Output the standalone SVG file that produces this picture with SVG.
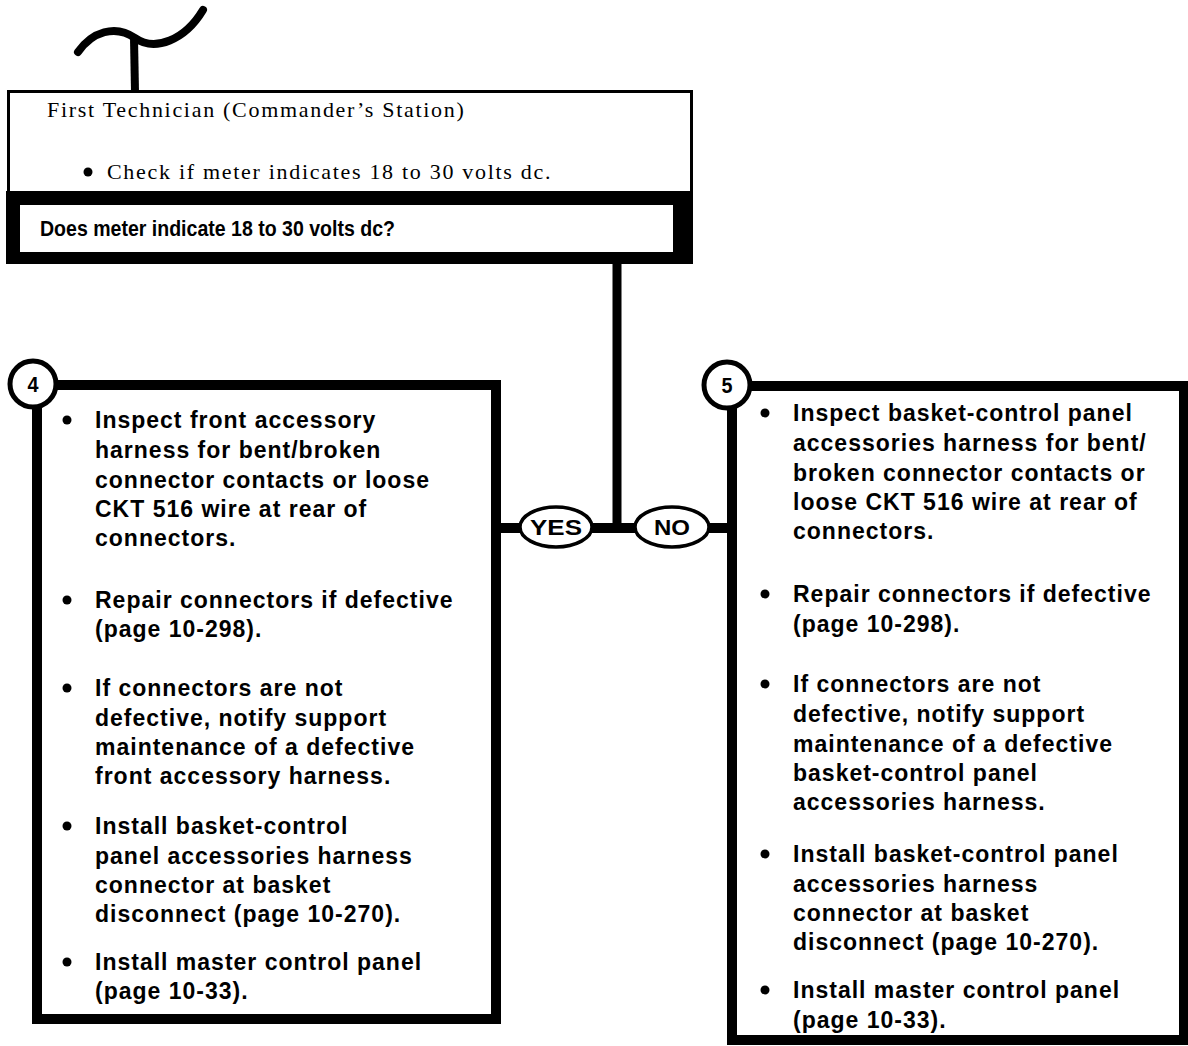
<svg xmlns="http://www.w3.org/2000/svg" width="1188" height="1046" viewBox="0 0 1188 1046">
<style>
.ser{font-family:"Liberation Serif","Times New Roman",serif;font-size:22px;fill:#000;letter-spacing:1.7px}
.b{font-family:"Liberation Sans",Arial,sans-serif;font-weight:bold;font-size:23px;fill:#000;letter-spacing:1px}
.q{font-family:"Liberation Sans",Arial,sans-serif;font-weight:bold;font-size:22px;fill:#000}
.lbl{font-family:"Liberation Sans",Arial,sans-serif;font-weight:bold;font-size:22px;fill:#000;text-anchor:middle}
.num{font-family:"Liberation Sans",Arial,sans-serif;font-weight:bold;font-size:22px;fill:#000;text-anchor:middle}
.box{fill:#fff;stroke:#000;stroke-width:10}
.ln{stroke:#000;fill:none}
.ov{fill:#fff;stroke:#000;stroke-width:3.5}
.circ{fill:#fff;stroke:#000;stroke-width:5}
</style>
<rect width="1188" height="1046" fill="#fff"/>
<g id="connectors">
<path class="ln" d="M78 52 C92 32 115 24 135 38 C155 52 185 40 203 10" stroke-width="8" stroke-linecap="round"/>
<line class="ln" x1="134" y1="38" x2="135" y2="92" stroke-width="8"/>
<line class="ln" x1="617" y1="262" x2="617" y2="530" stroke-width="9"/>
<line class="ln" x1="496" y1="528" x2="732" y2="528" stroke-width="10"/>
</g>
<g id="step-check">
<rect x="8.5" y="91.5" width="683" height="110" fill="#fff" stroke="#000" stroke-width="3"/>
<text class="ser" x="47" y="117">First Technician (Commander’s Station)</text>
<circle cx="88" cy="172" r="4.5"/>
<text class="ser" x="107" y="179">Check if meter indicates 18 to 30 volts dc.</text>
</g>
<g id="decision">
<rect x="6" y="191" width="687" height="73" fill="#000"/>
<rect x="20" y="205" width="653" height="47" fill="#fff"/>
<text class="q" x="40" y="236" textLength="355" lengthAdjust="spacingAndGlyphs">Does meter indicate 18 to 30 volts dc?</text>
</g>
<g id="yes">
<ellipse class="ov" cx="556" cy="527" rx="36" ry="20"/>
<text class="lbl" x="556" y="535" textLength="52" lengthAdjust="spacingAndGlyphs">YES</text>
</g>
<g id="no">
<ellipse class="ov" cx="672" cy="527" rx="37" ry="20"/>
<text class="lbl" x="672" y="535" textLength="36" lengthAdjust="spacingAndGlyphs">NO</text>
</g>
<g id="box4">
<rect class="box" x="37" y="385" width="459" height="634"/>
<circle class="circ" cx="33" cy="384" r="23"/>
<text class="num" x="33" y="392" textLength="11" lengthAdjust="spacingAndGlyphs">4</text>
<g>
<circle cx="67" cy="420" r="4.5"/><circle cx="67" cy="600" r="4.5"/><circle cx="67" cy="688" r="4.5"/><circle cx="67" cy="826" r="4.5"/><circle cx="67" cy="962" r="4.5"/>
</g>
<text class="b" x="95" y="428">Inspect front accessory</text>
<text class="b" x="95" y="458">harness for bent/broken</text>
<text class="b" x="95" y="488">connector contacts or loose</text>
<text class="b" x="95" y="517">CKT 516 wire at rear of</text>
<text class="b" x="95" y="546">connectors.</text>
<text class="b" x="95" y="608">Repair connectors if defective</text>
<text class="b" x="95" y="637">(page 10-298).</text>
<text class="b" x="95" y="696">If connectors are not</text>
<text class="b" x="95" y="726">defective, notify support</text>
<text class="b" x="95" y="755">maintenance of a defective</text>
<text class="b" x="95" y="784">front accessory harness.</text>
<text class="b" x="95" y="834">Install basket-control</text>
<text class="b" x="95" y="864">panel accessories harness</text>
<text class="b" x="95" y="893">connector at basket</text>
<text class="b" x="95" y="922">disconnect (page 10-270).</text>
<text class="b" x="95" y="970">Install master control panel</text>
<text class="b" x="95" y="999">(page 10-33).</text>
</g>
<g id="box5">
<rect class="box" x="732" y="386" width="452" height="654" stroke-width="9"/>
<circle class="circ" cx="727" cy="385" r="23"/>
<text class="num" x="727" y="393" textLength="11" lengthAdjust="spacingAndGlyphs">5</text>
<g>
<circle cx="765" cy="413" r="4.5"/><circle cx="765" cy="594" r="4.5"/><circle cx="765" cy="684" r="4.5"/><circle cx="765" cy="854" r="4.5"/><circle cx="765" cy="990" r="4.5"/>
</g>
<text class="b" x="793" y="421">Inspect basket-control panel</text>
<text class="b" x="793" y="451">accessories harness for bent/</text>
<text class="b" x="793" y="481">broken connector contacts or</text>
<text class="b" x="793" y="510">loose CKT 516 wire at rear of</text>
<text class="b" x="793" y="539">connectors.</text>
<text class="b" x="793" y="602">Repair connectors if defective</text>
<text class="b" x="793" y="632">(page 10-298).</text>
<text class="b" x="793" y="692">If connectors are not</text>
<text class="b" x="793" y="722">defective, notify support</text>
<text class="b" x="793" y="752">maintenance of a defective</text>
<text class="b" x="793" y="781">basket-control panel</text>
<text class="b" x="793" y="810">accessories harness.</text>
<text class="b" x="793" y="862">Install basket-control panel</text>
<text class="b" x="793" y="892">accessories harness</text>
<text class="b" x="793" y="921">connector at basket</text>
<text class="b" x="793" y="950">disconnect (page 10-270).</text>
<text class="b" x="793" y="998">Install master control panel</text>
<text class="b" x="793" y="1028">(page 10-33).</text>
</g>
</svg>
